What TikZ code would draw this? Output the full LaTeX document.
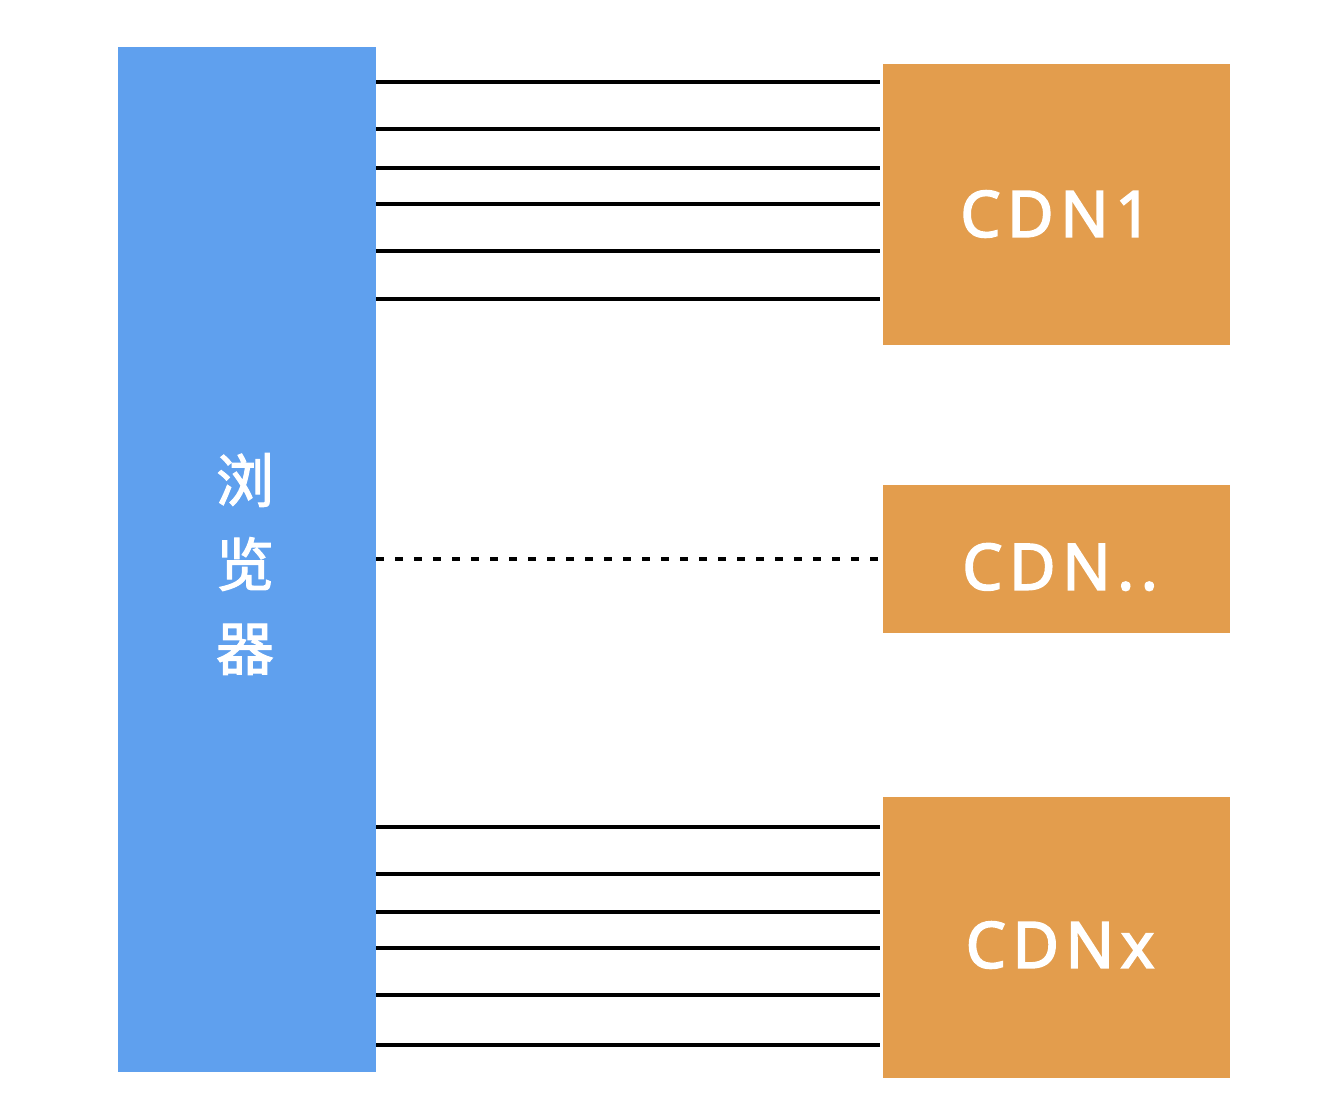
\documentclass[tikz,border=0pt]{standalone}
\usepackage{fontspec}
\setmainfont{Noto Sans}
\newfontfamily\cdnfont{Noto Sans}[FakeBold=2.5,LetterSpace=10]
\newfontfamily\cjk{Noto Sans CJK SC}[FakeBold=2]
\definecolor{browserblue}{HTML}{5FA0EE}
\definecolor{cdnorange}{HTML}{E39D4D}
\begin{document}
\begin{tikzpicture}[x=1pt,y=-1pt,
  browser/.style={fill=browserblue,draw=none,inner sep=0pt,minimum width=258pt,minimum height=1025pt},
  cdnbox/.style={fill=cdnorange,draw=none,inner sep=0pt,minimum width=347pt},
  cdnlabel/.style={text=white,font=\cdnfont\fontsize{64}{70}\selectfont},
  conn/.style={line width=3.2pt,black},
  dconn/.style={line width=3.2pt,black,dash pattern=on 8pt off 11pt}]
\useasboundingbox (0,0) rectangle (1340,1118);
\fill[white] (0,0) rectangle (1340,1118);
\node[browser] (br) at (247,559.5) {};
\node[text=white,font=\cjk\fontsize{58}{84}\selectfont,align=center] (brl) at (245,564) {浏\\览\\器};
\node[cdnbox,minimum height=281pt] (c1) at (1056.5,204.5) {};
\node[cdnbox,minimum height=148pt] (c2) at (1056.5,559) {};
\node[cdnbox,minimum height=281pt] (c3) at (1056.5,937.5) {};
\node[cdnlabel] (l1) at (1056,214) {CDN1};
\node[cdnlabel] (l2) at (1060,567) {CDN..};
\node[cdnlabel] (l3) at (1060,945) {CDNx};
\foreach \y in {82,129,168,204,251,299}{
  \coordinate (a\y) at (br.east |- 0,\y);
  \coordinate (b\y) at ([xshift=-3pt]c1.west |- 0,\y);
  \draw[conn] (a\y) -- (b\y);
}
\coordinate (ad) at (br.east |- 0,559);
\coordinate (bd) at ([xshift=-3pt]c2.west |- 0,559);
\draw[dconn] (ad) -- (bd);
\foreach \y in {827,874,912,948,995,1045}{
  \coordinate (a\y) at (br.east |- 0,\y);
  \coordinate (b\y) at ([xshift=-3pt]c3.west |- 0,\y);
  \draw[conn] (a\y) -- (b\y);
}
\end{tikzpicture}
\end{document}
